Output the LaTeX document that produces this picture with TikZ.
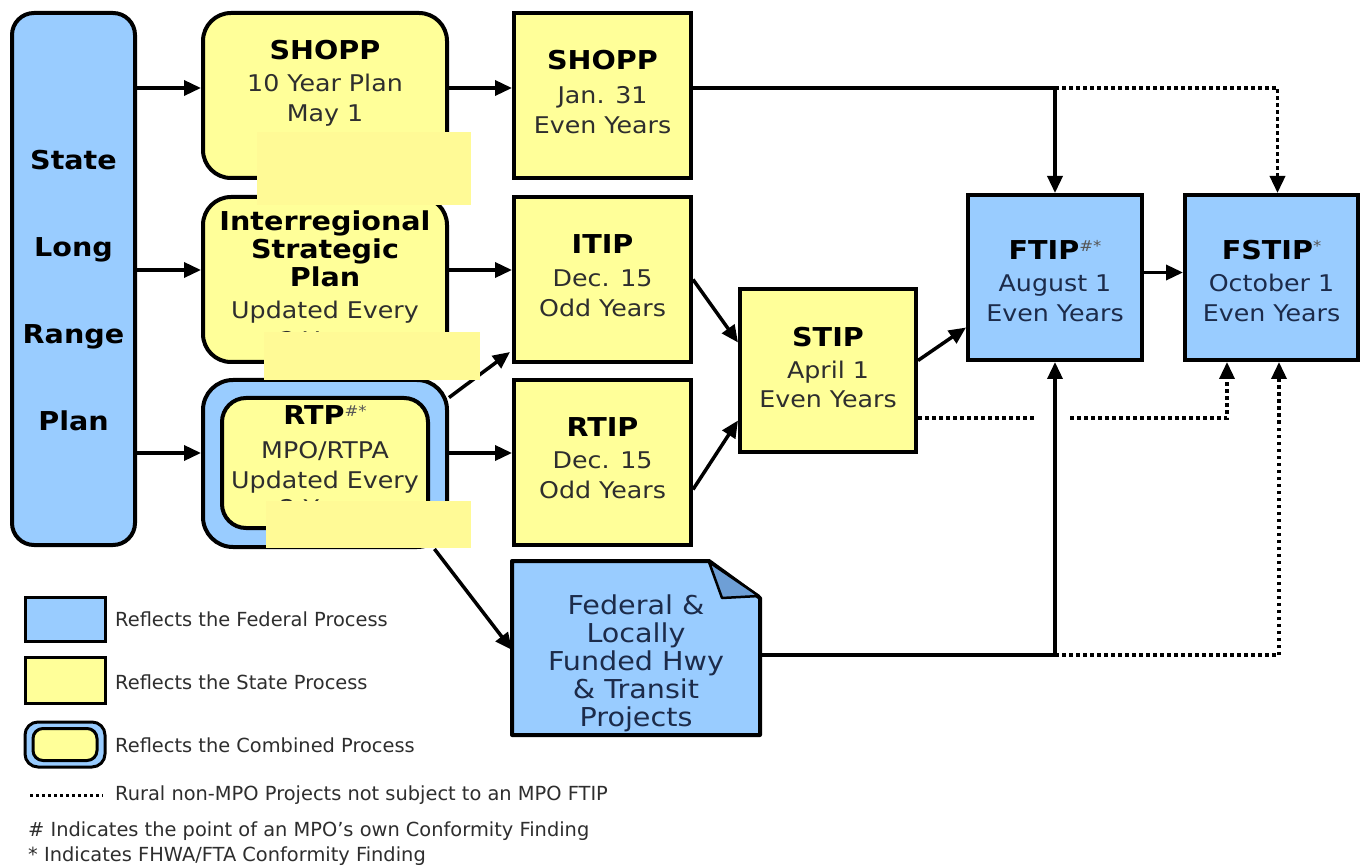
\documentclass[tikz,border=0pt]{standalone}
\usepackage{fontspec}
\setmainfont{DejaVu Sans}
\newfontfamily\dfont{DejaVu Sans}[FakeStretch=1.1]
\usetikzlibrary{arrows.meta,calc}
\definecolor{fblue}{HTML}{99CCFF}
\definecolor{syellow}{HTML}{FFFF99}
\definecolor{cover}{HTML}{FFFA96}
\definecolor{flap}{HTML}{6E9FD6}
\definecolor{txt}{HTML}{2E2E2E}
\definecolor{navy}{HTML}{1C2B4A}
\definecolor{supc}{HTML}{555555}
\newcommand\tb{\dfont\bfseries\fontsize{26}{30}\selectfont\color{black}}
\newcommand\tr{\dfont\fontsize{23}{30}\selectfont}
\newcommand\fedfont{\dfont\fontsize{26}{28}\selectfont}
\newcommand\legfont{\fontsize{19.4}{20}\selectfont}
\newcommand\sups[1]{{\fontsize{15}{15}\selectfont\color{supc}\raisebox{8pt}{#1}}}
\begin{document}
\begin{tikzpicture}[x=1pt,y=-1pt,
  fbox/.style={draw=black,line width=4pt,fill=fblue,inner sep=0pt},
  ybox/.style={draw=black,line width=4pt,fill=syellow,inner sep=0pt},
  txtnode/.style={align=center,inner sep=0pt,font=\tr,text=txt},
  legtext/.style={anchor=west,inner sep=0pt,font=\legfont,text=txt},
  arr/.style={line width=3.5pt,-{Triangle[length=17pt,width=15pt]}},
  dot/.style={line width=3.5pt,dash pattern=on 3.5pt off 3.5pt},
  dotarr/.style={dot,-{Triangle[length=17pt,width=15pt]}}]
\useasboundingbox (0,0) rectangle (1360,866);
\fill[white] (0,0) rectangle (1360,866);

% State Long Range Plan
\node[fbox,rounded corners=22pt,minimum width=123pt,minimum height=532pt] (state) at (73.5,279) {};
\node[txtnode,font=\tb,text=black] (statet) at (73.5,291) {State\\[57pt]Long\\[57pt]Range\\[57pt]Plan};

% Left column
\node[ybox,rounded corners=28pt,minimum width=244pt,minimum height=165pt] (plan) at (325,95.5) {};
\node[txtnode] (plant) at (325,96) {{\tb SHOPP}\\[2pt]10 Year Plan\\May 1\\Even Years};

\node[ybox,rounded corners=28pt,minimum width=244pt,minimum height=165pt] (isp) at (325,279.5) {};
\node[txtnode] (ispt) at (325,280) {{\tb Interregional}\\[-2pt]{\tb Strategic}\\[-2pt]{\tb Plan}\\[2pt]Updated Every\\2 Years};

\node[fbox,rounded corners=30pt,minimum width=244pt,minimum height=167pt] (rtp) at (325,463.5) {};
\node[ybox,rounded corners=24pt,minimum width=206pt,minimum height=130pt] (rtpin) at (325,463) {};
\node[txtnode] (rtpt) at (325,461) {{\tb RTP}\sups{\#*}\\[4pt]MPO/RTPA\\Updated Every\\[-2pt]2 Years};

% Middle column
\node[ybox,minimum width=177pt,minimum height=165pt] (shopp) at (602.5,95.5) {};
\node[txtnode] (shoppt) at (602.5,92) {{\tb SHOPP}\\[4pt]Jan. 31\\Even Years};

\node[ybox,minimum width=177pt,minimum height=165pt] (itip) at (602.5,279.5) {};
\node[txtnode] (itipt) at (602.5,275.5) {{\tb ITIP}\\[3pt]Dec. 15\\Odd Years};

\node[ybox,minimum width=177pt,minimum height=165pt] (rtip) at (602.5,462.5) {};
\node[txtnode] (rtipt) at (602.5,458) {{\tb RTIP}\\[2pt]Dec. 15\\Odd Years};

\node[ybox,minimum width=176pt,minimum height=163pt] (stip) at (828,370.5) {};
\node[txtnode] (stipt) at (828,367.5) {{\tb STIP}\\[2pt]April 1\\[-1pt]Even Years};

\node[fbox,minimum width=174pt,minimum height=165pt] (ftip) at (1055,277.5) {};
\node[txtnode,text=navy] (ftipt) at (1055,281) {{\tb FTIP}\sups{\#*}\\[2pt]August 1\\Even Years};

\node[fbox,minimum width=173pt,minimum height=165pt] (fstip) at (1271.5,277.5) {};
\node[txtnode,text=navy] (fstipt) at (1271.5,281) {{\tb FSTIP}\sups{*}\\[2pt]October 1\\Even Years};

% Federal & Locally Funded (dog-ear)
\node[minimum width=244pt,minimum height=170pt,inner sep=0pt,outer sep=2pt] (fed) at (636,648) {};
\draw[line width=4pt,fill=fblue,line join=round]
  (fed.north west) -- ($(fed.north east)+(-51,0)$) -- ($(fed.north east)+(0,37)$)
  -- (fed.south east) -- (fed.south west) -- cycle;
\draw[line width=2.5pt,fill=flap,line join=round]
  ($(fed.north east)+(-51,1)$) -- ($(fed.north east)+(-38,37)$) -- ($(fed.north east)+(-1,35)$) -- cycle;
\node[txtnode,text=navy,font=\fedfont] (fedt) at (636,663) {Federal \&\\Locally\\Funded Hwy\\\& Transit\\Projects};

% Connectors
\coordinate (r1) at (0,88);
\coordinate (r2) at (0,270);
\coordinate (r3) at (0,453);
\coordinate (r4) at (0,655);
\draw[arr] (state.east|-r1) -- (plan.west|-r1);
\draw[arr] (state.east|-r2) -- (isp.west|-r2);
\draw[arr] (state.east|-r3) -- (rtp.west|-r3);
\draw[arr] (plan.east|-r1) -- (shopp.west|-r1);
\draw[arr] (isp.east|-r2) -- (itip.west|-r2);
\draw[arr] (rtp.east|-r3) -- (rtip.west|-r3);
\draw[arr] (rtp.28) -- ($(itip.south west)+(-2,-12)$);
\draw[arr] (rtp.-38.5) -- ($(fed.south west)+(0,-85)$);
\draw[arr] (itip.east) -- ($(stip.west)+(0,-28)$);
\draw[arr] ($(rtip.east)+(0,27)$) -- ($(stip.west)+(0,50)$);
\draw[arr] ($(stip.east)+(0,-10)$) -- ($(ftip.west)+(0,50)$);
\draw[arr] ($(ftip.east)+(0,-5)$) -- ($(fstip.west)+(0,-5)$);
\coordinate (c1) at (ftip.north|-r1);
\draw[arr] (shopp.east|-r1) -- (c1) -- (ftip.north);
\coordinate (c2) at ($(fstip.north|-r1)+(6,0)$);
\draw[dotarr] (c1) -- (c2) -- (c2|-fstip.north);
\coordinate (g1) at (1035,418);
\coordinate (g2) at (1070,418);
\coordinate (c3) at (1227,418);
\draw[dot] ($(stip.east)+(0,47.5)$) -- (g1);
\draw[dotarr] (g2) -- (c3) -- (c3|-fstip.south);
\draw[arr] (fed.east|-r4) -- (ftip.south|-r4) -- (ftip.south);
\coordinate (c5) at ($(fstip.south|-r4)+(7.5,0)$);
\draw[dotarr] (ftip.south|-r4) -- (c5) -- (c5|-fstip.south);

% Legend
\node[fbox,line width=3pt,minimum width=80pt,minimum height=44pt] (lf) at (65,619) {};
\node[ybox,line width=3pt,minimum width=80pt,minimum height=46pt] (ls) at (65,680) {};
\node[fbox,line width=3pt,rounded corners=13pt,minimum width=80pt,minimum height=45pt] (lc) at (65,744.5) {};
\node[ybox,line width=3pt,rounded corners=10pt,minimum width=64pt,minimum height=32pt] (lci) at (65,744.5) {};
\node[legtext] (lt1) at (115,619) {Reflects the Federal Process};
\node[legtext] (lt2) at (115,682) {Reflects the State Process};
\node[legtext] (lt3) at (115,745) {Reflects the Combined Process};
\coordinate (d1) at (30,795);
\coordinate (d2) at (103,795);
\draw[line width=3pt,dash pattern=on 3pt off 3pt] (d1) -- (d2);
\node[legtext] (lt4) at (115,795) {Rural non-MPO Projects not subject to an MPO FTIP};
\node[legtext] (lt5) at (28,831) {\# Indicates the point of an MPO's own Conformity Finding};
\node[legtext] (lt6) at (28,856) {* Indicates FHWA/FTA Conformity Finding};

% Cover patches
\fill[cover] (257,132) rectangle (471,205);
\fill[cover] (264,332) rectangle (480,380);
\fill[cover] (266,501) rectangle (471,548);
\end{tikzpicture}
\end{document}
